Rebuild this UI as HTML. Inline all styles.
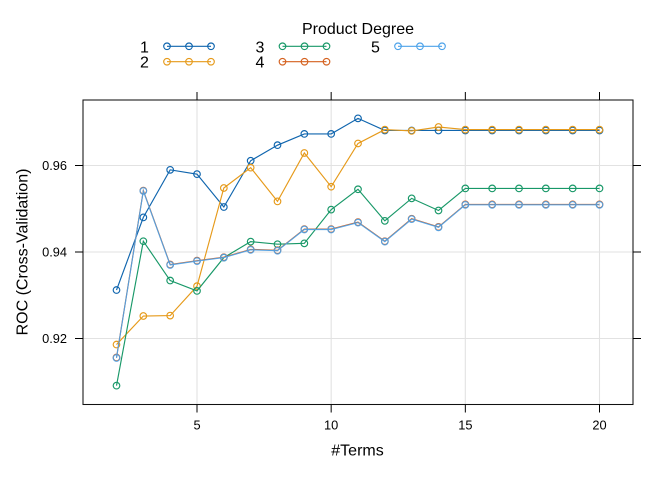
<!DOCTYPE html>
<html>
<head>
<meta charset="utf-8">
<title>ROC by number of terms</title>
<style>
html,body{margin:0;padding:0;background:#fff;}
svg{display:block;}
text{font-family:"Liberation Sans",Arial,sans-serif;fill:#000;}
</style>
</head>
<body>
<svg id="chart" width="672" height="480" viewBox="0 0 672 480" xmlns="http://www.w3.org/2000/svg"></svg>
<script>
const terms = [2,3,4,5,6,7,8,9,10,11,12,13,14,15,16,17,18,19,20];
const degree1 = [0.9312,0.9480,0.9590,0.9580,0.9504,0.9611,0.9647,0.9673,0.9673,0.9709,0.9681,0.9681,0.9681,0.9681,0.9681,0.9681,0.9681,0.9681,0.9681];
const degree2 = [0.9186,0.9252,0.9253,0.9321,0.9548,0.9595,0.9517,0.9629,0.9551,0.9651,0.9683,0.9680,0.9689,0.9683,0.9683,0.9683,0.9683,0.9683,0.9683];
const degree3 = [0.9091,0.9425,0.9334,0.9310,0.9387,0.9424,0.9418,0.9420,0.9498,0.9545,0.9472,0.9524,0.9496,0.9547,0.9547,0.9547,0.9547,0.9547,0.9547];
const degree4 = [0.9156,0.9542,0.9371,0.9380,0.9388,0.9406,0.9404,0.9453,0.9453,0.9469,0.9425,0.9477,0.9458,0.9510,0.9510,0.9510,0.9510,0.9510,0.9510];
const degree5 = [0.9155,0.9541,0.9370,0.9379,0.9387,0.9405,0.9403,0.9452,0.9452,0.9468,0.9424,0.9476,0.9457,0.9509,0.9509,0.9509,0.9509,0.9509,0.9509];
const seriesNames = ['1','2','3','4','5'];
const xTicks = [5,10,15,20];
const yTicks = [0.92,0.94,0.96];
const yTickLabels = ['0.92','0.94','0.96'];

const seriesValues = [degree1,degree2,degree3,degree4,degree5];
const colors = ['#0F65AE','#E69A1A','#189868','#D4601E','#4DA3EA'];
const NS = 'http://www.w3.org/2000/svg';
const svg = document.getElementById('chart');
const panel = {left:83,right:633,top:100,bottom:404.5};

function xScale(v){ return 116.5 + (v - 2) * (599.5 - 116.5) / 18; }
function yScale(v){ return 165.5 + (0.96 - v) * 4325; }

function make(tag, attrs, parent){
  const el = document.createElementNS(NS, tag);
  for (const k in attrs) el.setAttribute(k, attrs[k]);
  (parent || svg).appendChild(el);
  return el;
}
function label(str, x, y, size, anchor, parent){
  const t = make('text', {x:x, y:y, 'font-size':size, 'text-anchor':anchor}, parent);
  t.textContent = str;
  return t;
}

// grid
const grid = make('g', {stroke:'#e2e2e2','stroke-width':1.1,fill:'none'});


xTicks.forEach(function(v){
  const l = make('line', {x1:xScale(v),x2:xScale(v),y1:panel.top,y2:panel.bottom}, grid);
  
  
});
yTicks.forEach(function(v){
  const l = make('line', {x1:panel.left,x2:panel.right,y1:yScale(v),y2:yScale(v)}, grid);
  
  
});

// series
seriesValues.forEach(function(vals, s){
  const g = make('g', {stroke:colors[s],'stroke-width':1.15,fill:'none'});
  
  
  if (s === 4) g.setAttribute('opacity', '0.92');
  const pts = vals.map(function(v,i){ return xScale(terms[i]).toFixed(2) + ',' + yScale(v).toFixed(2); }).join(' ');
  const line = make('polyline', {points:pts}, g);
  
  
  vals.forEach(function(v,i){
    const c = make('circle', {cx:xScale(terms[i]),cy:yScale(v),r:3.3}, g);
    
    
  });
});

// panel border
const border = make('rect', {x:panel.left,y:panel.top,width:panel.right-panel.left,height:panel.bottom-panel.top,fill:'none',stroke:'#111','stroke-width':1.05});



// x axis
const xAxis = make('g', {stroke:'#000','stroke-width':1});


xTicks.forEach(function(v){
  const b = make('line', {x1:xScale(v),x2:xScale(v),y1:panel.bottom,y2:panel.bottom+8}, xAxis);
  
  
  const t = make('line', {x1:xScale(v),x2:xScale(v),y1:panel.top-8,y2:panel.top}, xAxis);
  
  
  const lab = label(String(v), xScale(v), 429.5, 12.8, 'middle');
  
  
});

// y axis
const yAxis = make('g', {stroke:'#000','stroke-width':1});


yTicks.forEach(function(v,i){
  const a = make('line', {x1:panel.left-8,x2:panel.left,y1:yScale(v),y2:yScale(v)}, yAxis);
  
  
  const b = make('line', {x1:panel.right,x2:panel.right+8,y1:yScale(v),y2:yScale(v)}, yAxis);
  
  
  const lab = label(yTickLabels[i], 67, yScale(v)+4.5, 12.8, 'end');
  
  
});

// axis titles
const xTitle = label('#Terms', 357.5, 455.7, 16, 'middle');


const yTitle = label('ROC (Cross-Validation)', 0, 0, 16, 'middle');
yTitle.setAttribute('transform', 'translate(27.5,252) rotate(-90)');



// legend
const legend = make('g', {});


const legendTitle = label('Product Degree', 358, 34, 16, 'middle', legend);


seriesNames.forEach(function(name, s){
  const col = Math.floor(s / 2);
  const row = s % 2;
  const x0 = 167 + col * 115.5;
  const y0 = 46.3 + row * 15.4;
  const entry = make('g', {}, legend);
  
  
  label(name, x0 - 22.5, y0 + 6, 16, 'middle', entry);
  const mk = make('g', {stroke:colors[s],'stroke-width':1.15,fill:'none'}, entry);
  make('line', {x1:x0,x2:x0+44,y1:y0,y2:y0}, mk);
  [0,22,44].forEach(function(dx){
    make('circle', {cx:x0+dx,cy:y0,r:3.3}, mk);
  });
});
</script>
</body>
</html>
